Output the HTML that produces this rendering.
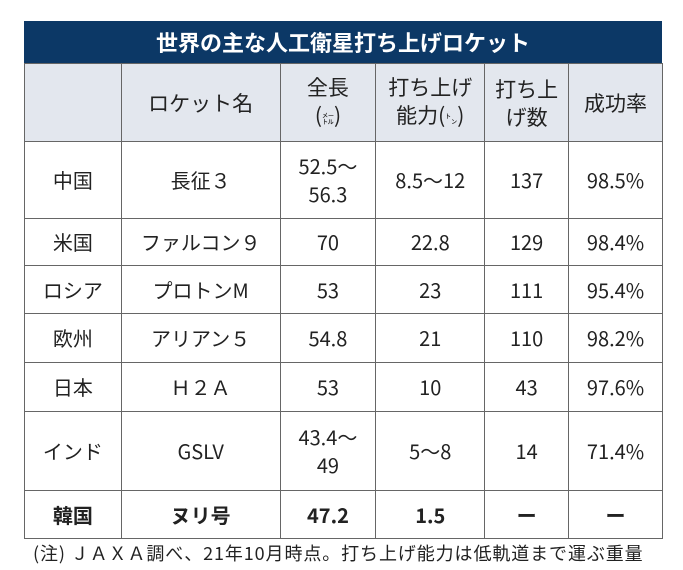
<!DOCTYPE html>
<html><head><meta charset="utf-8"><style>
body{margin:0;width:683px;height:570px;background:#fff;font-family:"Noto Sans CJK JP","Liberation Sans",sans-serif;color:#222;position:relative;overflow:hidden}
.title{position:absolute;left:24px;top:21px;width:638px;height:42px;background:#0c3866;color:#fff;font-weight:bold;font-size:22px;line-height:42px;text-align:center}
table{position:absolute;left:24px;top:63px;border-collapse:collapse;width:639px}
td{border:1px solid #666;text-align:center;font-size:20px;line-height:28px;padding:0}
tr.h td{background:#e3e7ee;font-size:21px}
.b td{font-weight:bold}
.note{position:absolute;left:33px;top:540px;font-size:18px;line-height:26px;white-space:nowrap;letter-spacing:0.9px}
</style></head><body>
<div class="title">世界の主な人工衛星打ち上げロケット</div>
<table>
<colgroup><col style="width:97px"><col style="width:159px"><col style="width:96px"><col style="width:109px"><col style="width:84px"><col style="width:94px"></colgroup>
<tr class="h" style="height:78px"><td></td><td>ロケット名</td><td>全長<br>(<span style="font-size:12px">㍍</span>)</td><td>打ち上げ<br>能力(<span style="font-size:12px">㌧</span>)</td><td>打ち上<br>げ数</td><td>成功率</td></tr>
<tr style="height:77px"><td>中国</td><td>長征３</td><td>52.5～<br>56.3</td><td>8.5～12</td><td>137</td><td>98.5%</td></tr>
<tr style="height:47px"><td>米国</td><td>ファルコン９</td><td>70</td><td>22.8</td><td>129</td><td>98.4%</td></tr>
<tr style="height:48px"><td>ロシア</td><td>プロトンM</td><td>53</td><td>23</td><td>111</td><td>95.4%</td></tr>
<tr style="height:49px"><td>欧州</td><td>アリアン５</td><td>54.8</td><td>21</td><td>110</td><td>98.2%</td></tr>
<tr style="height:49px"><td>日本</td><td>Ｈ２Ａ</td><td>53</td><td>10</td><td>43</td><td>97.6%</td></tr>
<tr style="height:79px"><td>インド</td><td>GSLV</td><td>43.4～<br>49</td><td>5～8</td><td>14</td><td>71.4%</td></tr>
<tr class="b" style="height:48px"><td>韓国</td><td>ヌリ号</td><td>47.2</td><td>1.5</td><td>ー</td><td>ー</td></tr>
</table>
<div class="note">(注) ＪＡＸＡ調べ、21年10月時点。打ち上げ能力は低軌道まで運ぶ重量</div>
</body></html>
